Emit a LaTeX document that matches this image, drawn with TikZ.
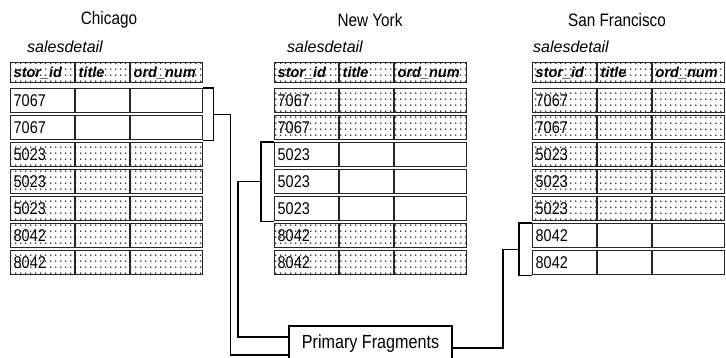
\documentclass[tikz,border=0pt]{standalone}
\usepackage{fontspec}
\setmainfont{Liberation Sans}
\newfontfamily\narrowfont{Liberation Sans}[FakeStretch=0.85]
\usetikzlibrary{positioning, calc, patterns}

% sparse dot screen of the table cells
\pgfdeclarepatternformonly{sparse dots}{\pgfqpoint{0pt}{0pt}}{\pgfqpoint{1.5pt}{1.5pt}}{\pgfqpoint{5pt}{6pt}}{%
  \pgfpathcircle{\pgfqpoint{0.75pt}{0.75pt}}{0.75pt}\pgfusepath{fill}}

\newcommand{\headrow}{\makebox[65pt][l]{\textbf{\textit{stor\_id}}}\makebox[55pt][l]{\textbf{\textit{title}}}\textbf{\textit{ord\_num}}}

\begin{document}
\begin{tikzpicture}[
  x=1pt, y=-1pt,
  every node/.style={font=\narrowfont\fontsize{17}{19}\selectfont},
  site/.style={font=\narrowfont\fontsize{18}{20}\selectfont},
  tabname/.style={anchor=west, inner sep=0pt, font=\itshape\fontsize{16}{18}\selectfont},
  rowbox/.style={draw=black!85, line width=1.4pt, anchor=north west, inner xsep=3pt, inner ysep=0pt,
    text width=186pt, minimum height=24pt, align=left},
  headbox/.style={rowbox, dotrow, minimum height=20pt, font=\fontsize{14.5}{16}\selectfont},
  dotrow/.style={pattern=sparse dots},
  clearrow/.style={fill=white},
  rowline/.style={draw=black!85, line width=1.4pt},
  frame/.style={line width=1.1pt},
  fragbox/.style={draw, line width=1.1pt, minimum width=163pt, minimum height=36pt, font=\narrowfont\fontsize{19}{21}\selectfont}
]
\useasboundingbox (0,0) rectangle (726,358);

% Chicago
\node[site] (chi-title) at (109,20) {Chicago};
\node[tabname] (chi-name) at (27,47) {salesdetail};
\node[headbox] (chi-head) at (10,62) {\headrow};
\foreach \r/\id/\sh in {1/7067/clearrow, 2/7067/clearrow, 3/5023/dotrow, 4/5023/dotrow,
                        5/5023/dotrow, 6/8042/dotrow, 7/8042/dotrow}
  \node[rowbox, \sh] (chi-r\r) at (10,{88+27*(\r-1)}) {\id};

% New York
\node[site] (ny-title) at (370,20) {New York};
\node[tabname] (ny-name) at (287,47) {salesdetail};
\node[headbox] (ny-head) at (274,62) {\headrow};
\foreach \r/\id/\sh in {1/7067/dotrow, 2/7067/dotrow, 3/5023/clearrow, 4/5023/clearrow,
                        5/5023/clearrow, 6/8042/dotrow, 7/8042/dotrow}
  \node[rowbox, \sh] (ny-r\r) at (274,{88+27*(\r-1)}) {\id};

% San Francisco
\node[site] (sf-title) at (617,20) {San Francisco};
\node[tabname] (sf-name) at (533,47) {salesdetail};
\node[headbox] (sf-head) at (532,62) {\headrow};
\foreach \r/\id/\sh in {1/7067/dotrow, 2/7067/dotrow, 3/5023/dotrow, 4/5023/dotrow,
                        5/5023/dotrow, 6/8042/clearrow, 7/8042/clearrow}
  \node[rowbox, \sh] (sf-r\r) at (532,{88+27*(\r-1)}) {\id};

% column rules
\foreach \t in {chi, ny, sf}
  \foreach \n in {head, r1, r2, r3, r4, r5, r6, r7} {
    \draw[rowline] ([xshift=65pt]\t-\n.north west) -- ([xshift=65pt]\t-\n.south west);
    \draw[rowline] ([xshift=120pt]\t-\n.north west) -- ([xshift=120pt]\t-\n.south west);
  }

\node[fragbox] (frag) at (370.5,344) {Primary Fragments};

% brackets round the fragments
\draw[frame] (chi-r1.north east) -- ++(10,0) |- (chi-r2.south east);
\draw[frame] (ny-r3.north west) -- ++(-13,0) |- (ny-r5.south west);
\draw[frame] (sf-r6.north west) -- ++(-13,0) |- (sf-r7.south west);
\coordinate (chi-b) at ($(chi-r1.north east)!0.5!(chi-r2.south east)+(10,0)$);
\coordinate (ny-b) at ($(ny-r3.north west)!0.5!(ny-r5.south west)+(-13,0)$);
\coordinate (sf-b) at ($(sf-r6.north west)!0.5!(sf-r7.south west)+(-13,0)$);

% leaders to the label
\draw[frame] (chi-b) -- ++(17,0) |- ([yshift=-11pt]frag.west);
\draw[frame] (ny-b) -- ++(-23,0) |- ([yshift=7pt]frag.west);
\draw[frame] (sf-b) -- ++(-16,0) |- ([yshift=-4pt]frag.east);

\end{tikzpicture}
\end{document}
